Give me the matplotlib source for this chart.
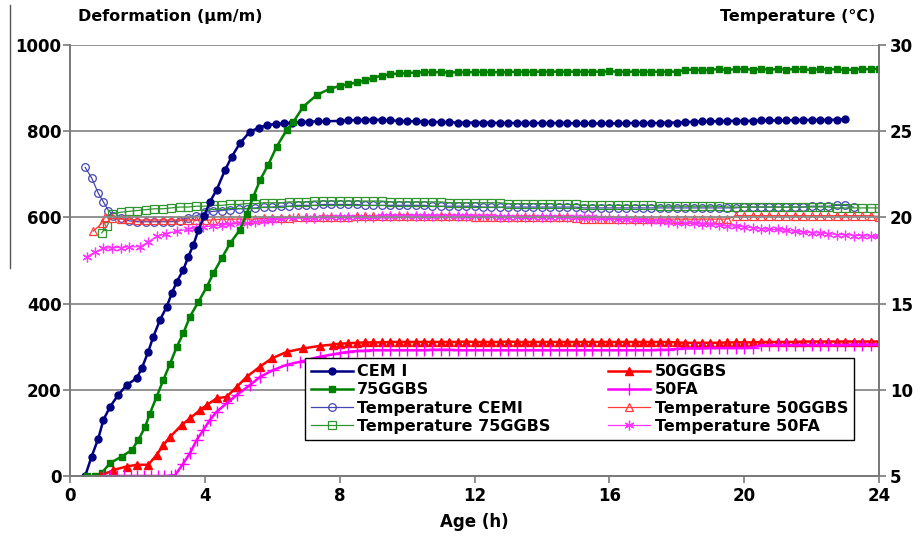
import matplotlib
matplotlib.use("Agg")
from matplotlib import pyplot as plt
from matplotlib.lines import Line2D

# ---- data ----
# shared time base for the long plateau part (h)
age_tail = [8.0, 8.25, 8.5, 8.75, 9.0, 9.25, 9.5, 9.75, 10.0, 10.25, 10.5, 10.75, 11.0,
            11.25, 11.5, 11.75, 12.0, 12.25, 12.5, 12.75, 13.0, 13.25, 13.5, 13.75, 14.0, 14.25,
            14.5, 14.75, 15.0, 15.25, 15.5, 15.75, 16.0, 16.25, 16.5, 16.75, 17.0, 17.25, 17.5,
            17.75, 18.0, 18.25, 18.5, 18.75, 19.0, 19.25, 19.5, 19.75, 20.0, 20.25, 20.5, 20.75,
            21.0, 21.25, 21.5, 21.75, 22.0, 22.25, 22.5, 22.75, 23.0, 23.25, 23.5, 23.75, 24.0]

# deformation (um/m)
cem1_age = [0.45, 0.64, 0.84, 0.99, 1.19, 1.43, 1.68, 1.98, 2.13, 2.32, 2.47, 2.67, 2.87, 3.02,
            3.17, 3.36, 3.51, 3.66, 3.81, 3.98, 4.15, 4.35, 4.6, 4.8, 5.04, 5.34, 5.6, 5.84,
            6.1, 6.35, 6.6, 6.85, 7.1, 7.35, 7.6]
cem1_def = [0, 45, 87, 130, 161, 188, 211, 227, 250, 288, 323, 362, 393, 424, 451, 478, 509,
            536, 571, 603, 636, 664, 710, 741, 772, 799, 808, 814, 817, 818, 820, 821, 822, 823, 823]
cem1_tail = [824, 825, 826, 826, 827, 826, 825, 824, 823, 823, 822, 822, 821,
             821, 820, 820, 820, 820, 820, 819, 819, 819, 819, 819, 819, 819,
             819, 819, 818, 818, 818, 818, 818, 818, 819, 819, 819, 819, 819,
             820, 820, 821, 822, 823, 823, 823, 824, 824, 824, 824, 825, 825,
             825, 825, 826, 826, 826, 826, 826, 827, 828]

ggbs75_age = [0.5, 0.75, 0.94, 1.19, 1.53, 1.83, 2.03, 2.23, 2.37, 2.57, 2.77, 2.97, 3.17, 3.36,
              3.56, 3.81, 4.06, 4.25, 4.5, 4.75, 5.04, 5.24, 5.44, 5.64, 5.88, 6.13, 6.43, 6.63,
              6.92, 7.32, 7.7]
ggbs75_def = [0, 0, 7, 30, 45, 60, 84, 114, 145, 184, 223, 261, 300, 331, 370, 404, 439, 470,
              505, 540, 571, 609, 648, 687, 722, 764, 803, 822, 857, 884, 898]
ggbs75_tail = [905, 909, 913, 918, 924, 929, 932, 934, 935, 936, 937, 937, 937,
               936, 937, 937, 937, 938, 937, 937, 937, 938, 938, 938, 938, 938,
               938, 938, 938, 938, 938, 938, 939, 938, 938, 938, 938, 938, 938,
               938, 938, 942, 943, 941, 943, 944, 942, 944, 944, 943, 944, 943,
               944, 943, 944, 944, 942, 944, 943, 944, 942, 943, 944, 944, 945]

ggbs50_age = [0.89, 1.29, 1.68, 1.98, 2.32, 2.57, 2.77, 2.97, 3.31, 3.56, 3.86, 4.06, 4.35,
              4.65, 4.95, 5.24, 5.64, 5.99, 6.43, 6.92, 7.42, 7.8]
ggbs50_def = [0, 14, 22, 26, 26, 49, 72, 91, 118, 134, 153, 165, 180, 184, 207, 230, 254, 273,
              288, 296, 302, 305]
ggbs50_tail = [307, 308, 309, 310, 310, 310, 311, 311, 311, 311, 311, 311, 311,
               311, 311, 312, 311, 311, 311, 311, 312, 311, 311, 311, 311, 311,
               311, 311, 311, 311, 311, 311, 311, 311, 311, 311, 311, 311, 311,
               311, 310, 309, 309, 309, 309, 309, 310, 310, 310, 310, 311, 311,
               311, 311, 311, 312, 312, 312, 312, 312, 312, 312, 312, 312, 312]

fa50_age = [0.99, 1.2, 1.4, 1.6, 1.8, 2.0, 2.2, 2.4, 2.6, 2.8, 3.0, 3.12, 3.36, 3.56, 3.76,
            3.96, 4.15, 4.35, 4.65, 4.95, 5.34, 5.64, 6.03, 6.43, 6.82, 7.42, 7.8]
fa50_def = [0, 0, 0, 0, 0, 0, 0, 0, 0, 0, 1, 2, 29, 53, 84, 107, 130, 149, 169, 188, 211, 230,
            246, 258, 265, 277, 282]
fa50_tail = [285, 288, 290, 291, 292, 292, 292, 292, 292, 292, 292, 293, 293,
             293, 292, 292, 292, 292, 292, 292, 292, 292, 292, 292, 292, 292,
             292, 292, 292, 292, 292, 292, 292, 292, 292, 292, 292, 292, 293,
             293, 295, 296, 296, 296, 297, 297, 297, 297, 297, 298, 303, 304,
             304, 304, 304, 304, 304, 304, 304, 304, 304, 305, 305, 305, 305]

# temperature (deg C)
t_cem1_age = [0.45, 0.64, 0.84, 0.99, 1.14, 1.29, 1.5, 1.75, 2.0, 2.25, 2.5, 2.75, 3.0, 3.25,
              3.5, 3.75, 4.0, 4.25, 4.5, 4.75, 5.0, 5.25, 5.5, 5.75, 6.0, 6.25, 6.5, 6.75,
              7.0, 7.25, 7.5, 7.75]
t_cem1 = [22.9, 22.3, 21.4, 20.9, 20.4, 20.1, 19.95, 19.8, 19.75, 19.75, 19.75, 19.75, 19.75,
          19.8, 19.95, 20.1, 20.3, 20.35, 20.4, 20.45, 20.5, 20.5, 20.55, 20.6, 20.6, 20.65,
          20.65, 20.7, 20.7, 20.7, 20.75, 20.75]
t_cem1_tail = [20.75, 20.75, 20.75, 20.7, 20.7, 20.7, 20.7, 20.7, 20.7, 20.7, 20.7, 20.65, 20.65,
               20.65, 20.65, 20.65, 20.65, 20.6, 20.6, 20.6, 20.6, 20.6, 20.6, 20.6, 20.6, 20.6,
               20.6, 20.6, 20.6, 20.55, 20.55, 20.55, 20.55, 20.55, 20.55, 20.55, 20.55, 20.55, 20.55,
               20.55, 20.55, 20.55, 20.55, 20.55, 20.55, 20.55, 20.55, 20.55, 20.6, 20.6, 20.6, 20.6,
               20.6, 20.6, 20.6, 20.6, 20.65, 20.65, 20.65, 20.7, 20.7, 20.6]

t_ggbs75_age = [0.94, 1.1, 1.25, 1.5, 1.75, 2.0, 2.25, 2.5, 2.75, 3.0, 3.25, 3.5, 3.75, 4.0,
                4.25, 4.5, 4.75, 5.0, 5.25, 5.5, 5.75, 6.0, 6.25, 6.5, 6.75, 7.0, 7.25, 7.5, 7.75]
t_ggbs75 = [19.1, 19.5, 20.2, 20.3, 20.35, 20.4, 20.45, 20.5, 20.5, 20.55, 20.6, 20.6, 20.65,
            20.65, 20.7, 20.7, 20.75, 20.75, 20.8, 20.8, 20.85, 20.85, 20.85, 20.9, 20.9, 20.9,
            20.95, 20.95, 20.95]
t_ggbs75_tail = [20.95, 20.95, 20.95, 20.95, 20.95, 20.95, 20.9, 20.9, 20.9, 20.9, 20.9, 20.9, 20.9,
                 20.85, 20.85, 20.85, 20.85, 20.85, 20.85, 20.85, 20.8, 20.8, 20.8, 20.8, 20.8, 20.8,
                 20.75, 20.75, 20.75, 20.7, 20.7, 20.7, 20.7, 20.7, 20.7, 20.7, 20.7, 20.7, 20.65,
                 20.65, 20.65, 20.65, 20.65, 20.65, 20.65, 20.65, 20.6, 20.6, 20.6, 20.6, 20.6, 20.6,
                 20.6, 20.6, 20.6, 20.6, 20.6, 20.6, 20.6, 20.55, 20.55, 20.55, 20.55, 20.55, 20.55]

t_ggbs50_age = [0.69, 0.94, 1.04, 1.25, 1.5, 1.75, 2.0, 2.25, 2.5, 2.75, 3.0, 3.25, 3.5, 3.75,
                4.0, 4.25, 4.5, 4.75, 5.0, 5.25, 5.5, 5.75, 6.0, 6.25, 6.5, 6.75, 7.0, 7.25, 7.5, 7.75]
t_ggbs50 = [19.2, 19.65, 20.05, 19.95, 19.9, 19.9, 19.85, 19.85, 19.85, 19.85, 19.85, 19.85,
            19.85, 19.85, 19.85, 19.85, 19.9, 19.9, 19.9, 19.9, 19.9, 19.95, 19.95, 19.95, 19.95,
            20.0, 20.0, 20.0, 20.0, 20.0]
t_ggbs50_tail = [20.05, 20.05, 20.1, 20.1, 20.1, 20.1, 20.1, 20.1, 20.1, 20.1, 20.1, 20.1, 20.1,
                 20.1, 20.1, 20.1, 20.05, 20.05, 20.05, 20.05, 20.05, 20.05, 20.05, 20.05, 20.05, 20.05,
                 20.05, 20.0, 19.95, 19.9, 19.9, 19.9, 19.9, 19.9, 19.9, 19.9, 19.9, 19.9, 19.9,
                 19.9, 19.9, 19.9, 19.9, 19.9, 19.9, 19.9, 19.9, 20.1, 20.1, 20.1, 20.1, 20.1,
                 20.1, 20.1, 20.1, 20.1, 20.1, 20.1, 20.1, 20.1, 20.1, 20.1, 20.1, 20.1, 20.05]

t_fa50_age = [0.49, 0.75, 0.99, 1.25, 1.5, 1.75, 2.08, 2.3, 2.57, 2.85, 3.17, 3.5, 3.75, 3.96,
              4.25, 4.5, 4.75, 5.04, 5.25, 5.5, 5.75, 6.0, 6.25, 6.63, 7.0, 7.25, 7.5, 7.75]
t_fa50 = [17.7, 18.0, 18.2, 18.25, 18.25, 18.3, 18.3, 18.55, 18.9, 19.05, 19.2, 19.3, 19.4,
          19.45, 19.5, 19.55, 19.6, 19.65, 19.7, 19.75, 19.8, 19.85, 19.9, 19.95, 19.95, 19.95,
          20.0, 20.0]
t_fa50_tail = [20.0, 20.0, 20.05, 20.05, 20.05, 20.1, 20.1, 20.1, 20.1, 20.1, 20.1, 20.1, 20.1,
               20.1, 20.1, 20.1, 20.1, 20.1, 20.1, 20.05, 20.05, 20.05, 20.05, 20.05, 20.05, 20.05,
               20.05, 20.0, 20.0, 20.0, 20.0, 19.95, 19.95, 19.9, 19.9, 19.85, 19.85, 19.8, 19.8,
               19.75, 19.7, 19.7, 19.65, 19.6, 19.6, 19.55, 19.5, 19.5, 19.45, 19.4, 19.35, 19.3,
               19.3, 19.25, 19.2, 19.15, 19.1, 19.1, 19.05, 19.0, 19.0, 18.95, 18.95, 18.9, 18.9]


def join(age, vals, tail):
    # rising part + plateau part on the shared time base
    return age + age_tail[:len(tail)], vals + tail


plt.rcParams['font.family'] = ['DejaVu Sans']
plt.rcParams['font.weight'] = 'bold'

fig = plt.figure(figsize=(9.21, 5.36), dpi=100)
ax = fig.add_axes([70 / 921, 60 / 536, 809 / 921, 431 / 536])
ax2 = ax.twinx()
ax.set_zorder(ax2.get_zorder() + 1)
ax.patch.set_visible(False)

thick = dict(lw=1.8)
thin = dict(lw=0.9, mfc='none', mew=0.9)

x, y = join(cem1_age, cem1_def, cem1_tail)
h1, = ax.plot(x, y, color='#000080', marker='o', ms=5, label='CEM I', **thick)
x, y = join(ggbs75_age, ggbs75_def, ggbs75_tail)
h2, = ax.plot(x, y, color='#008000', marker='s', ms=5, label='75GGBS', **thick)
x, y = join(ggbs50_age, ggbs50_def, ggbs50_tail)
h5, = ax.plot(x, y, color='#ff0000', marker='^', ms=6, label='50GGBS', **thick)
x, y = join(fa50_age, fa50_def, fa50_tail)
h6, = ax.plot(x, y, color='#ff00ff', marker='+', ms=8, mew=1.0, label='50FA', **thick)

x, y = join(t_cem1_age, t_cem1, t_cem1_tail)
h3, = ax2.plot(x, y, color='#4444b4', marker='o', ms=5.5, label='Temperature CEMI', **thin)
x, y = join(t_ggbs75_age, t_ggbs75, t_ggbs75_tail)
h4, = ax2.plot(x, y, color='#2f962f', marker='s', ms=5.5, label='Temperature 75GGBS', **thin)
x, y = join(t_ggbs50_age, t_ggbs50, t_ggbs50_tail)
h7, = ax2.plot(x, y, color='#ff3b3b', marker='^', ms=6, label='Temperature 50GGBS', **thin)
x, y = join(t_fa50_age, t_fa50, t_fa50_tail)
h8, = ax2.plot(x, y, color='#ff33ff', marker=(6, 2, 0), ms=7, label='Temperature 50FA', **thin)

ax.set_xlim(0, 24)
ax.set_ylim(0, 1000)
ax2.set_ylim(5, 30)
ax.set_xticks([0, 4, 8, 12, 16, 20, 24])
ax.set_yticks([0, 200, 400, 600, 800, 1000])
ax2.set_yticks([5, 10, 15, 20, 25, 30])
ax.yaxis.grid(True, color='#8a8a8a', lw=1.3)
ax.set_axisbelow(True)

for a in (ax, ax2):
    for s in a.spines.values():
        s.set_color('#7a7a7a')
        s.set_linewidth(1.3)
    a.spines['top'].set_visible(False)
    a.tick_params(labelsize=12, colors='#7a7a7a', labelcolor='black', width=1.2)
ax.tick_params(axis='y', length=5, pad=1)
ax.tick_params(axis='x', length=5, pad=3)
ax2.tick_params(axis='y', length=5, pad=3)
for lab in ax.get_xticklabels() + ax.get_yticklabels() + ax2.get_yticklabels():
    lab.set_fontweight('bold')

leg = ax.legend(handles=[h1, h2, h3, h4, h5, h6, h7, h8], ncol=2, loc='lower left',
                bbox_to_anchor=(0.29, 0.083), borderaxespad=0,
                labelspacing=0.2, handlelength=2.6, handletextpad=0.3,
                columnspacing=3.6, borderpad=0.4, fancybox=False, framealpha=1,
                edgecolor='black', prop={'weight': 'bold', 'size': 11.5})
leg.get_frame().set_linewidth(1.0)

fig.text(78 / 921, 1 - 17 / 536, 'Deformation (µm/m)', ha='left', va='center',
         fontsize=11.5, fontweight='bold')
fig.text(875 / 921, 1 - 17 / 536, 'Temperature (°C)', ha='right', va='center',
         fontsize=11.5, fontweight='bold')
fig.text(474 / 921, 1 - 522 / 536, 'Age (h)', ha='center', va='center',
         fontsize=12, fontweight='bold')

# stray vertical line at the left edge of the original image
fig.add_artist(Line2D([10 / 921, 10 / 921], [1 - 5 / 536, 1 - 268 / 536],
                      transform=fig.transFigure, color='#555555', lw=1))

fig.savefig('out.png', dpi=100)
